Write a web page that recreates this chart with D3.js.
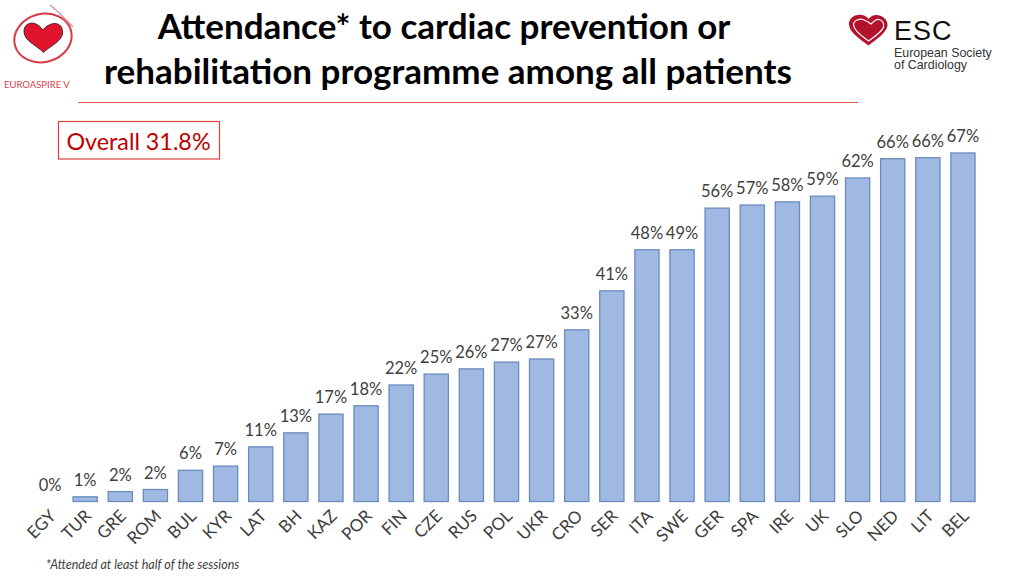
<!DOCTYPE html>
<html><head><meta charset="utf-8">
<script src="https://d3js.org/d3.v7.min.js"></script>
<style>html,body{margin:0;padding:0;background:#fff}svg{display:block}text{font-family:Lato,"Open Sans",sans-serif}</style>
</head><body><div id="c"></div>
<script>
const categories=["EGY","TUR","GRE","ROM","BUL","KYR","LAT","BH","KAZ","POR","FIN","CZE","RUS","POL","UKR","CRO","SER","ITA","SWE","GER","SPA","IRE","UK","SLO","NED","LIT","BEL"];
const values=[0,0.9,1.9,2.3,6,6.8,10.5,13.2,16.8,18.4,22.4,24.5,25.5,26.8,27.4,33,40.5,48.4,48.4,56.4,57,57.6,58.7,62.2,65.9,66.1,67];
const labels=["0%","1%","2%","2%","6%","7%","11%","13%","17%","18%","22%","25%","26%","27%","27%","33%","41%","48%","49%","56%","57%","58%","59%","62%","66%","66%","67%"];
const titleLines=["Attendance* to cardiac prevention or","rehabilitation programme among all patients"];

const svg=d3.select("#c").append("svg").attr("width",1023).attr("height",576);
const x=d3.scaleBand().domain(categories).range([32.5,980.5]).paddingInner(0.31).paddingOuter(0.155);
const y=d3.scaleLinear().domain([0,67]).range([501.5,153]);

svg.selectAll("rect.bar").data(categories).join("rect").attr("class","bar")
 .attr("x",d=>x(d)).attr("width",x.bandwidth())
 .attr("y",(d,i)=>y(values[i])).attr("height",(d,i)=>y(0)-y(values[i]))
 .attr("fill","#9fb9e3").attr("stroke","#6a8cbd").attr("stroke-width",1.3);

svg.selectAll("text.val").data(categories).join("text").attr("class","val")
 .attr("x",d=>x(d)+x.bandwidth()/2).attr("y",(d,i)=>y(values[i])-11)
 .attr("text-anchor","middle").attr("font-size",16.5).attr("fill","#404040")
 .text((d,i)=>labels[i]);

svg.selectAll("text.cat").data(categories).join("text").attr("class","cat")
 .attr("text-anchor","end").attr("font-size",17).attr("fill","#404040")
 .attr("transform",d=>`translate(${x(d)+x.bandwidth()/2+7},${517}) rotate(-45)`)
 .text(d=>d);

svg.selectAll("text.title").data(titleLines).join("text").attr("class","title")
 .attr("x",(d,i)=>i?448:444).attr("y",(d,i)=>i?84:39)
 .attr("text-anchor","middle").attr("font-size",35).attr("font-weight",700).attr("fill","#000")
 .text(d=>d);

svg.append("line").attr("x1",78).attr("x2",858).attr("y1",102.5).attr("y2",102.5).attr("stroke","#e0604c").attr("stroke-width",1.2);

svg.append("rect").attr("x",58.5).attr("y",121.5).attr("width",161).attr("height",37.5).attr("fill","#fff").attr("stroke","#d9453a").attr("stroke-width",1.2);
svg.append("text").attr("x",138.5).attr("y",149.5).attr("text-anchor","middle").attr("font-size",23.3).attr("fill","#c00000").text("Overall 31.8%");

svg.append("text").attr("x",46).attr("y",569).attr("font-size",12.5).attr("font-style","italic").attr("fill","#404040").text("*Attended at least half of the sessions");

// EUROASPIRE logo
svg.append("path").attr("d","M43.5 52.5C36 45 24.500 41 24 32C23.500 24 31 21.500 36 24C39 25.500 41.500 27.500 43 30C45 27 49 24 54 23.500C60 23 63.500 28 62.500 34C61 42 50 46 43.500 52.500Z")
 .attr("fill","#e2132c").attr("stroke","#222").attr("stroke-width",.8);
svg.append("ellipse").attr("cx",43).attr("cy",38).attr("rx",29).attr("ry",24).attr("fill","none").attr("stroke","#d63a48").attr("stroke-width",2).attr("transform","rotate(-15 43 38)");
svg.append("path").attr("d","M50 5C57 10 64 18 73 27").attr("fill","none").attr("stroke","#dc8f98").attr("stroke-width",1.5);
svg.append("text").attr("x",4).attr("y",88).attr("font-size",9.5).attr("fill","#d8404a").text("EUROASPIRE V");

// ESC logo
svg.append("path").attr("d","M868.500 45.500C860 39 850 33 849 25C848 17 857 14 862 15C865 15.500 867 17 868.500 19C870 17 873 15 876 15C882 15 888 19 887.500 26C886 33 877 39 868.500 45.500Z")
 .attr("fill","#b3122a");
svg.append("path").attr("d","M868.500 41C863 37 854 31 853.500 25C853.500 20 860 18.500 863 19.500C867 21 869 22 871 24C873 22 876 19 879 19.500C883 20 884 24 883.500 27C882 32 874 37 868.500 41Z")
 .attr("fill","none").attr("stroke","#fff").attr("stroke-width",1.2);
svg.append("text").attr("x",894).attr("y",40).attr("font-size",27).attr("letter-spacing",1).attr("fill","#111").style("font-family","'Liberation Sans'").text("ESC");
svg.append("text").attr("x",894).attr("y",57).attr("font-size",12.4).attr("fill","#333").style("font-family","'Liberation Sans'").text("European Society");
svg.append("text").attr("x",894).attr("y",69).attr("font-size",12.4).attr("fill","#333").style("font-family","'Liberation Sans'").text("of Cardiology");
</script></body></html>
